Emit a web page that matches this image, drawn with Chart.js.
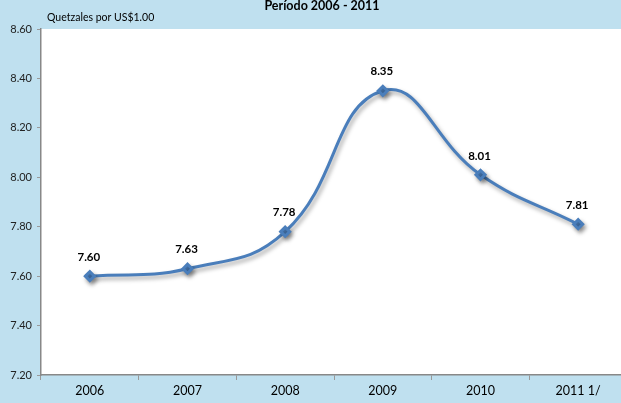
<!DOCTYPE html>
<html>
<head>
<meta charset="utf-8">
<script src="https://cdn.jsdelivr.net/npm/chart.js@4/dist/chart.umd.min.js"></script>
<style>
  html, body { margin: 0; padding: 0; overflow: hidden; background: #bfe0ef; }
  #wrap { position: relative; width: 644px; height: 403px; }
</style>
</head>
<body>
<div id="wrap"><canvas id="mygraph"></canvas></div>
<script>
const years = ['2006', '2007', '2008', '2009', '2010', '2011 1/']
const rates = [7.60, 7.63, 7.78, 8.35, 8.01, 7.81]
const chartTitle = 'Período 2006 - 2011'
const unitLabel = 'Quetzales por US$1.00'

const lineBlue = '#4a7ebb'
const fontName = 'Lato, "Open Sans", sans-serif'

// white plot area, title text and point labels
const decor = {
    id: 'decor',
    beforeDraw(chart) {
        const {ctx, chartArea: a} = chart
        ctx.save()
        ctx.fillStyle = '#ffffff'
        ctx.fillRect(a.left, a.top, a.right - a.left, a.bottom - a.top)
        ctx.restore()
    },
    beforeDatasetDraw(chart) {
        const ctx = chart.ctx
        ctx.save()
        ctx.shadowColor = 'rgba(0,0,0,0.35)'
        ctx.shadowBlur = 4
        ctx.shadowOffsetX = 2
        ctx.shadowOffsetY = 3
    },
    afterDatasetDraw(chart) {
        chart.ctx.restore()
    },
    afterDraw(chart) {
        const ctx = chart.ctx
        ctx.save()
        ctx.fillStyle = '#000'
        ctx.textAlign = 'center'
        ctx.textBaseline = 'middle'
        ctx.font = 'bold 12.5px ' + fontName
        ctx.fillText(chartTitle, 322, 6)
        ctx.textAlign = 'left'
        ctx.font = '10.5px ' + fontName
        ctx.fillText(unitLabel, 47, 18)
        ctx.textAlign = 'center'
        ctx.font = 'bold 11.5px ' + fontName
        chart.getDatasetMeta(0).data.forEach((pt, i) => {
            ctx.fillText(rates[i].toFixed(2), pt.x - 1, pt.y - 19)
        })
        ctx.restore()
    }
}

const ctx = document.getElementById('mygraph').getContext('2d');
const chart = new Chart(ctx, {
    type: 'line',
    data: {
        labels: years,
        datasets: [{
            data: rates,
            borderColor: lineBlue,
            backgroundColor: lineBlue,
            borderWidth: 3,
            tension: 0.45,
            pointStyle: 'rectRot',
            pointRadius: 4.5,
            pointHoverRadius: 4.5
        }]
    },
    options: {
        responsive: true,
        maintainAspectRatio: false,
        animation: false,
        layout: {padding: {top: 29, right: 17, left: 0, bottom: 0}},
        plugins: {legend: {display: false}, tooltip: {enabled: false}},
        scales: {
            x: {
                offset: true,
                grid: {drawOnChartArea: false, drawTicks: true, tickLength: 5, color: '#999', offset: true},
                border: {color: '#888', width: 1.5},
                ticks: {color: '#000', font: {family: fontName, size: 12.5}, padding: 3},
                afterFit(s) { s.height = 28 }
            },
            y: {
                min: 7.2,
                max: 8.6,
                grid: {drawOnChartArea: false, drawTicks: true, tickLength: 4, color: '#999'},
                border: {color: '#888', width: 1.5},
                ticks: {
                    stepSize: 0.2,
                    color: '#222',
                    font: {family: fontName, size: 11},
                    padding: 5,
                    callback: v => v.toFixed(2)
                },
                afterFit(s) { s.width = 41 }
            }
        }
    },
    plugins: [decor]
})
</script>
</body>
</html>
